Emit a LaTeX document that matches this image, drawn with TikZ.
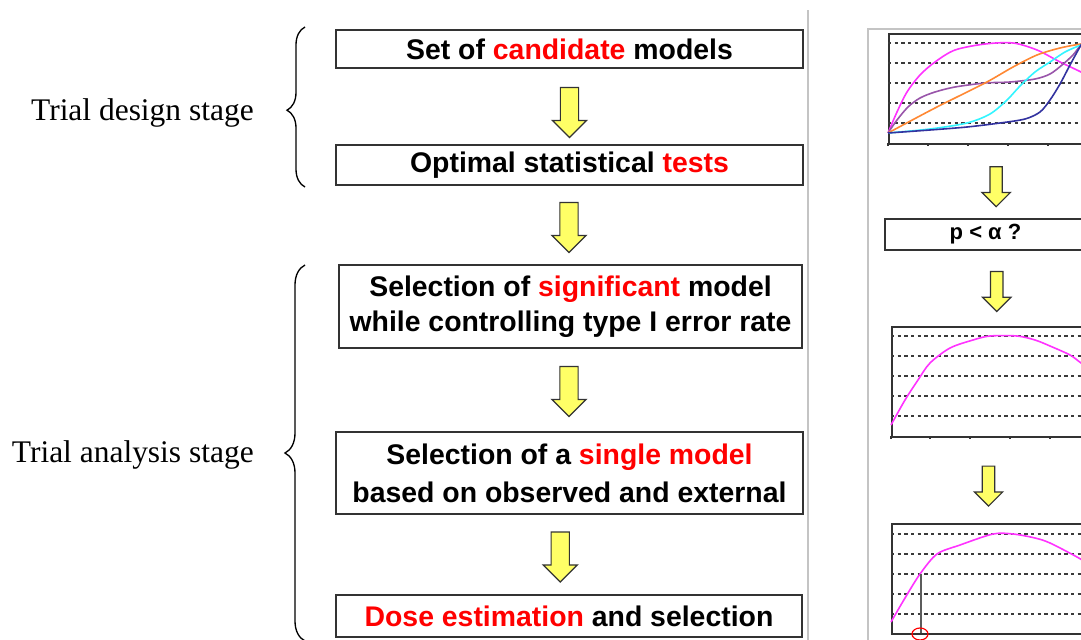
\documentclass[tikz,border=0pt]{standalone}
\usepackage{fontspec}
\setmainfont{Liberation Serif}
\newfontfamily\arialf{Liberation Sans}
\usetikzlibrary{shapes.arrows,decorations.pathreplacing,calc}
\definecolor{hired}{HTML}{FF0000}
\definecolor{arrowyellow}{HTML}{FFFF66}
\definecolor{framegray}{HTML}{333333}
\definecolor{panelgray}{HTML}{C4C4C4}
\definecolor{dashgray}{HTML}{3A3A3A}
\definecolor{curvemag}{HTML}{FF33FF}
\definecolor{curvepurple}{HTML}{9955AA}
\definecolor{curveorange}{HTML}{FF8833}
\definecolor{curvecyan}{HTML}{33F5FF}
\definecolor{curveblue}{HTML}{3333A0}
\tikzset{
  stepbox/.style={draw=framegray, line width=1.1pt, rectangle, inner sep=0pt,
    align=center, font=\arialf\bfseries\fontsize{21.3}{26}\selectfont},
  bigarrow/.style={single arrow, draw=framegray, fill=arrowyellow, line width=0.9pt,
    rotate=-90, inner xsep=0pt, inner ysep=6.4pt, single arrow head extend=6pt,
    minimum height=37.5pt},
  smallarrow/.style={single arrow, draw=framegray, fill=arrowyellow, line width=0.9pt,
    rotate=-90, inner xsep=0pt, inner ysep=4.2pt, single arrow head extend=6pt,
    minimum height=30pt},
  stagelabel/.style={anchor=base east, inner sep=0pt, font=\fontsize{23.6}{28}\selectfont},
  stagebrace/.style={decorate, line width=1pt},
  chartframe/.style={draw=framegray, line width=1.5pt, rectangle, inner sep=0pt, anchor=north west},
  gridline/.style={dashgray, line width=1.5pt, dash pattern=on 2.6pt off 2.4pt},
  curve/.style={line width=1.2pt, smooth},
  tickmark/.style={framegray, line width=0.8pt}
}
\begin{document}
\begin{tikzpicture}[x=0.75pt,y=-0.75pt]
\useasboundingbox (0,0) rectangle (1081,639);
\clip (0,0) rectangle (1081,639);
\fill[white] (0,0) rectangle (1081,639);

% ---------- left flow ----------
\node[stepbox, minimum width=350.25pt, minimum height=28.5pt] (b1) at (569.5,49)
  {Set of \textcolor{hired}{candidate} models};
\node[stepbox, minimum width=350.25pt, minimum height=30pt] (b2) at (569.5,165)
  {Optimal statistical \textcolor{hired}{tests}};
\node[stepbox, minimum width=347.25pt, minimum height=62.25pt] (b3) at (570.5,306.5)
  {Selection of \textcolor{hired}{significant} model\\while controlling type I error rate};
\node[stepbox, minimum width=350.25pt, minimum height=61.5pt] (b4) at (569.5,473)
  {Selection of a \textcolor{hired}{single model}\\[2.5pt]based on observed and external};
\node[stepbox, minimum width=349.5pt, minimum height=31.5pt] (b5) at (569,616)
  {\textcolor{hired}{Dose estimation} and selection};

\node[bigarrow] (a1) at ($(b1.south)!0.5!(b2.north)+(0,1.5)$) {};
\node[bigarrow] (a2) at ($(b2.south)!0.5!(b3.north)+(-1,-2)$) {};
\node[bigarrow] (a3) at ($(b3.south)!0.5!(b4.north)+(-1,-3)$) {};
\node[bigarrow] (a4) at ($(b4.south)!0.5!(b5.north)+(-9,-2)$) {};

% ---------- stage labels and braces ----------
\node[stagelabel] (l1) at (254,120) {Trial design stage};
\node[stagelabel] (l2) at (254,462) {Trial analysis stage};
\draw[stagebrace, decoration={brace, amplitude=13.5pt, aspect=0.48}] (305,187) -- (305,27);
\draw[stagebrace, decoration={brace, amplitude=15pt, aspect=0.5}] (305,641) -- (305,265);

% ---------- separator ----------
\draw[panelgray, line width=1.5pt] (808,10) -- (808,645);

% ---------- right panel ----------
\draw[panelgray, line width=1.3pt] (868,700) -- (868,29) -- (1100,29);

% chart 1
\node[chartframe, minimum width=150pt, minimum height=82.5pt] (c1) at (888,33) {};
\foreach \yy in {43,63,83,103,123} \draw[gridline] (888,\yy) -- (1100,\yy);
\foreach \xx in {888,928,968,1008,1048} \draw[tickmark] (\xx,143) -- (\xx,146);
\draw[curve, curvemag] plot coordinates {(888,133) (897,112) (907,92) (920,75) (935,62) (955,50) (985,44) (1013,43) (1037,50) (1060,62) (1081,72) (1095,80)};
\draw[curve, curvepurple] plot coordinates {(888,133) (897,120) (908,107) (920,98) (935,92) (955,87) (985,83) (1010,82) (1035,79) (1050,74) (1062,65) (1073,55) (1081,45) (1090,40)};
\draw[curve, curveorange] plot coordinates {(888,133) (935,108) (985,83) (1013,67) (1037,55) (1060,48) (1081,44) (1095,43)};
\draw[curve, curvecyan] plot coordinates {(888,133) (930,129) (967,123) (990,114) (1007,100) (1020,86) (1035,72) (1050,62) (1065,52) (1081,45) (1095,40)};
\draw[curve, curveblue] plot coordinates {(888,133) (930,130) (967,127) (1000,123) (1025,119) (1040,112) (1050,100) (1060,84) (1070,65) (1081,45) (1090,30)};

% p < alpha box
\node[stepbox, minimum width=150.75pt, minimum height=23.25pt, font=\arialf\bfseries\fontsize{16.5}{18}\selectfont] (p) at (985.5,234.5) {p < α ?};
\node[smallarrow] (r1) at ($(c1.south west)!0.5!(p.north west)+(110,2)$) {};

% chart 2
\node[chartframe, minimum width=150pt, minimum height=82.5pt] (c2) at (891,326) {};
\node[smallarrow] (r2) at ($(p.south)!0.5!(c2.north west)+(58.5,0)$) {};
\foreach \yy in {336,356,376,396,416} \draw[gridline] (891,\yy) -- (1100,\yy);
\foreach \xx in {891,930,970,1010,1050} \draw[tickmark] (\xx,436) -- (\xx,439);
\draw[curve, curvemag] plot coordinates {(891,425) (905,400) (918,380) (930,363) (950,348) (973,340) (990,336) (1017,336) (1035,340) (1050,346) (1070,355) (1081,363) (1095,373)};

% chart 3
\node[chartframe, minimum width=150pt, minimum height=82.5pt] (c3) at (891,523) {};
\node[smallarrow] (r3) at ($(c2.south west)!0.5!(c3.north west)+(97.5,2.5)$) {};
\foreach \yy in {534,554,574,594,614} \draw[gridline] (891,\yy) -- (1100,\yy);
\draw[curve, curvemag] plot coordinates {(891,622) (905,598) (920,574) (937,554) (960,545) (993,534) (1013,534) (1035,538) (1050,543) (1077,557) (1095,568)};
\draw[framegray!80, line width=1.1pt] (921,574) -- (921,633);
\draw[hired, line width=0.9pt] (920,634) ellipse [x radius=6pt, y radius=4.5pt];
\end{tikzpicture}
\end{document}
